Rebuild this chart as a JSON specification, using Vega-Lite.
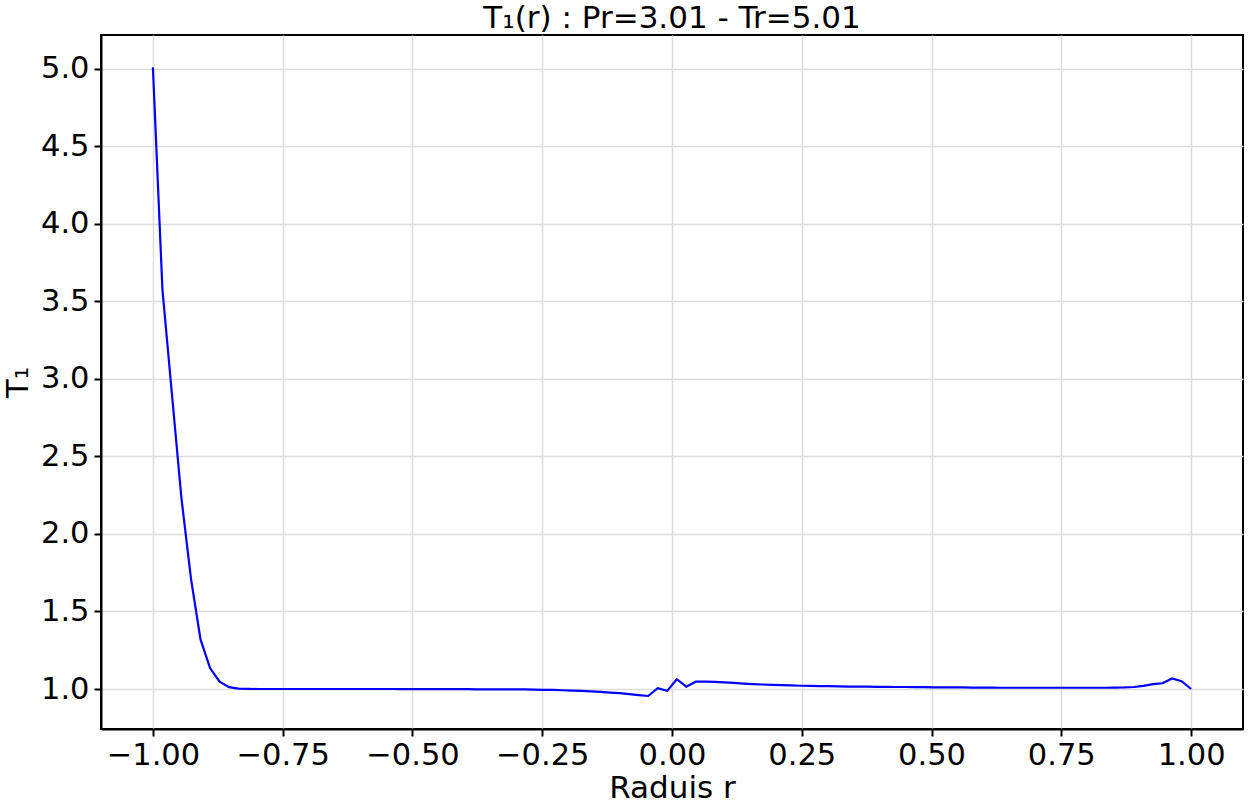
{
  "$schema": "https://vega.github.io/schema/vega-lite/v6.json",
  "width": 1142,
  "height": 694,
  "autosize": {"type": "none"},
  "padding": {"left": 101, "top": 35, "right": 7, "bottom": 75},
  "background": "white",
  "title": {
    "text": "T₁(r) : Pr=3.01 - Tr=5.01",
    "font": "DejaVu Sans",
    "fontSize": 31,
    "fontWeight": "normal",
    "color": "black",
    "anchor": "middle",
    "frame": "group",
    "baseline": "alphabetic",
    "offset": 8,
    "dy": 32
  },
  "config": {
    "view": {"stroke": "black", "strokeWidth": 2},
    "axis": {
      "labelFont": "DejaVu Sans",
      "titleFont": "DejaVu Sans",
      "labelFontSize": 30.5,
      "titleFontSize": 31,
      "titleFontWeight": "normal",
      "labelColor": "black",
      "titleColor": "black",
      "domainColor": "black",
      "domainWidth": 2,
      "tickColor": "black",
      "tickWidth": 2,
      "tickSize": 7,
      "gridColor": "#dcdcdc",
      "gridWidth": 1.5
    }
  },
  "data": {
    "values": [
      {"r": -1, "T": 5.01},
      {"r": -0.9817, "T": 3.58},
      {"r": -0.9633, "T": 2.9},
      {"r": -0.945, "T": 2.23},
      {"r": -0.9266, "T": 1.71},
      {"r": -0.9083, "T": 1.32},
      {"r": -0.8899, "T": 1.135},
      {"r": -0.8716, "T": 1.047},
      {"r": -0.8532, "T": 1.012},
      {"r": -0.8349, "T": 1.003},
      {"r": -0.8165, "T": 1.001},
      {"r": -0.7982, "T": 1.0},
      {"r": -0.7798, "T": 1.0},
      {"r": -0.7615, "T": 1.0},
      {"r": -0.7431, "T": 1.0},
      {"r": -0.7248, "T": 1.0},
      {"r": -0.7064, "T": 1.0},
      {"r": -0.6881, "T": 1.0},
      {"r": -0.6697, "T": 1.0},
      {"r": -0.6514, "T": 1.0},
      {"r": -0.633, "T": 1.0},
      {"r": -0.6147, "T": 1.0},
      {"r": -0.5963, "T": 1.0},
      {"r": -0.578, "T": 1.0},
      {"r": -0.5596, "T": 1.0},
      {"r": -0.5413, "T": 1.0},
      {"r": -0.5229, "T": 0.999},
      {"r": -0.5046, "T": 0.999},
      {"r": -0.4862, "T": 0.999},
      {"r": -0.4679, "T": 0.999},
      {"r": -0.4495, "T": 0.999},
      {"r": -0.4312, "T": 0.999},
      {"r": -0.4128, "T": 0.999},
      {"r": -0.3945, "T": 0.999},
      {"r": -0.3761, "T": 0.998},
      {"r": -0.3578, "T": 0.998},
      {"r": -0.3394, "T": 0.998},
      {"r": -0.3211, "T": 0.998},
      {"r": -0.3028, "T": 0.998},
      {"r": -0.2844, "T": 0.997},
      {"r": -0.2661, "T": 0.996},
      {"r": -0.2477, "T": 0.995},
      {"r": -0.2294, "T": 0.994},
      {"r": -0.211, "T": 0.992},
      {"r": -0.1927, "T": 0.99},
      {"r": -0.1743, "T": 0.988},
      {"r": -0.156, "T": 0.985},
      {"r": -0.1376, "T": 0.982},
      {"r": -0.1193, "T": 0.977},
      {"r": -0.1009, "T": 0.973},
      {"r": -0.0826, "T": 0.967},
      {"r": -0.0642, "T": 0.961},
      {"r": -0.0459, "T": 0.955},
      {"r": -0.0275, "T": 1.005},
      {"r": -0.0092, "T": 0.988},
      {"r": 0.0092, "T": 1.063},
      {"r": 0.0275, "T": 1.015},
      {"r": 0.0459, "T": 1.047},
      {"r": 0.0642, "T": 1.047},
      {"r": 0.0826, "T": 1.046},
      {"r": 0.1009, "T": 1.043},
      {"r": 0.1193, "T": 1.039},
      {"r": 0.1376, "T": 1.035},
      {"r": 0.156, "T": 1.032},
      {"r": 0.1743, "T": 1.029},
      {"r": 0.1927, "T": 1.027},
      {"r": 0.211, "T": 1.025},
      {"r": 0.2294, "T": 1.023},
      {"r": 0.2477, "T": 1.021},
      {"r": 0.2661, "T": 1.02},
      {"r": 0.2844, "T": 1.019},
      {"r": 0.3028, "T": 1.018},
      {"r": 0.3211, "T": 1.017},
      {"r": 0.3394, "T": 1.016},
      {"r": 0.3578, "T": 1.016},
      {"r": 0.3761, "T": 1.015},
      {"r": 0.3945, "T": 1.014},
      {"r": 0.4128, "T": 1.014},
      {"r": 0.4312, "T": 1.013},
      {"r": 0.4495, "T": 1.013},
      {"r": 0.4679, "T": 1.012},
      {"r": 0.4862, "T": 1.012},
      {"r": 0.5046, "T": 1.011},
      {"r": 0.5229, "T": 1.011},
      {"r": 0.5413, "T": 1.01},
      {"r": 0.5596, "T": 1.01},
      {"r": 0.578, "T": 1.009},
      {"r": 0.5963, "T": 1.009},
      {"r": 0.6147, "T": 1.009},
      {"r": 0.633, "T": 1.008},
      {"r": 0.6514, "T": 1.008},
      {"r": 0.6697, "T": 1.008},
      {"r": 0.6881, "T": 1.008},
      {"r": 0.7064, "T": 1.008},
      {"r": 0.7248, "T": 1.008},
      {"r": 0.7431, "T": 1.008},
      {"r": 0.7615, "T": 1.008},
      {"r": 0.7798, "T": 1.008},
      {"r": 0.7982, "T": 1.008},
      {"r": 0.8165, "T": 1.008},
      {"r": 0.8349, "T": 1.008},
      {"r": 0.8532, "T": 1.009},
      {"r": 0.8716, "T": 1.01},
      {"r": 0.8899, "T": 1.013},
      {"r": 0.9083, "T": 1.02},
      {"r": 0.9266, "T": 1.031},
      {"r": 0.945, "T": 1.037},
      {"r": 0.9633, "T": 1.068},
      {"r": 0.9817, "T": 1.05},
      {"r": 1, "T": 1.0}
    ]
  },
  "mark": {"type": "line", "color": "#0000ff", "strokeWidth": 2.2, "clip": true},
  "encoding": {
    "x": {
      "field": "r",
      "type": "quantitative",
      "scale": {"domain": [-1.1, 1.1], "nice": false, "zero": false},
      "axis": {
        "title": "Raduis r",
        "values": [-1, -0.75, -0.5, -0.25, 0, 0.25, 0.5, 0.75, 1],
        "format": ".2f",
        "labelPadding": 4,
        "labelFlush": false,
        "titleBaseline": "alphabetic",
        "titleY": 68
      }
    },
    "y": {
      "field": "T",
      "type": "quantitative",
      "scale": {"domain": [0.742, 5.219], "nice": false, "zero": false},
      "axis": {
        "title": "T₁",
        "values": [1, 1.5, 2, 2.5, 3, 3.5, 4, 4.5, 5],
        "format": ".1f",
        "labelPadding": 5,
        "labelFlush": false,
        "titleAngle": -90,
        "titleBaseline": "middle",
        "titleX": -83
      }
    }
  }
}
